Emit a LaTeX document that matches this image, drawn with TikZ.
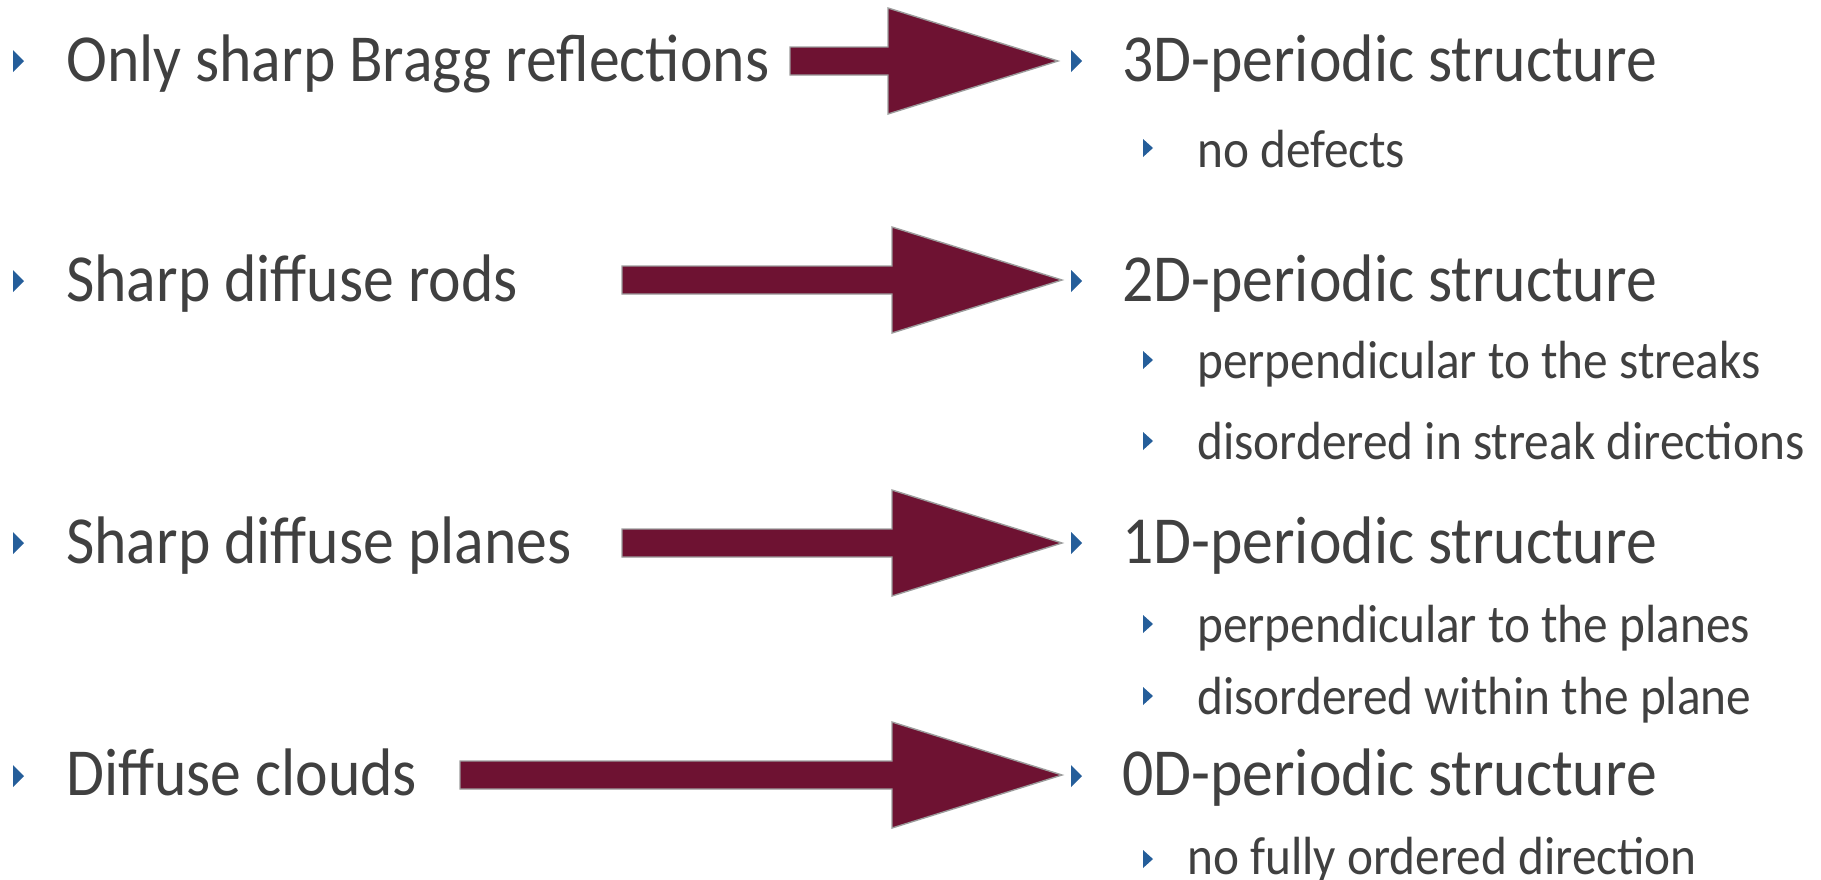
\documentclass[tikz,border=0pt]{standalone}
\usepackage{fontspec}
\setmainfont{Carlito}
\usetikzlibrary{calc}

\definecolor{txtgray}{HTML}{404040}
\definecolor{bulblue}{HTML}{255E9A}
\definecolor{wine}{HTML}{6E1232}
\definecolor{rimgray}{HTML}{9C9C9C}

\tikzset{
  maintext/.style={anchor=base west, inner sep=0pt, text=txtgray,
    font=\fontsize{61.7}{61.7}\selectfont},
  subtext/.style={anchor=base west, inner sep=0pt, text=txtgray,
    font=\fontsize{49.3}{49.3}\selectfont},
  bulletfill/.style={fill=bulblue},
  blockarrow/.style={fill=wine, draw=rimgray, line width=1.4pt, line join=miter},
}

% small triangular bullet: x, y (centre), half height, width
\newcommand\tribullet[4]{%
  \fill[bulletfill] (#1,#2-#3) -- (#1+#4,#2) -- (#1,#2+#3) -- cycle;}

% thick block arrow from a start coordinate to a tip coordinate
\newcommand\fatarrow[2]{%
  \draw[blockarrow] let \p1=(#1), \p2=(#2) in
    (\x1,\y1+14pt) -- (\x2-170pt,\y1+14pt) -- (\x2-170pt,\y1+53pt) --
    (\x2,\y2) -- (\x2-170pt,\y1-53pt) -- (\x2-170pt,\y1-14pt) --
    (\x1,\y1-14pt) -- cycle;}

\newcommand\tall[1]{\scalebox{1}[1.09]{#1}}

\begin{document}
\begin{tikzpicture}[x=1pt,y=-1pt]
\useasboundingbox (0,0) rectangle (1821,879);

% ---- left column: observations ----
\tribullet{13}{61}{11}{11}
\tribullet{13}{281}{11}{11}
\tribullet{13}{543}{11}{11}
\tribullet{13}{776}{11}{11}
\node[maintext] (obs1) at (66,81) {\tall{Only sharp Bragg reflections}};
\node[maintext] (obs2) at (66,301) {\tall{Sharp diffuse rods}};
\node[maintext] (obs3) at (66,563) {\tall{Sharp diffuse planes}};
\node[maintext] (obs4) at (66,795) {\tall{Diffuse clouds}};

% ---- arrows ----
\coordinate (a1s) at (790,61);  \coordinate (a1t) at (1058,61);
\coordinate (a2s) at (622,280); \coordinate (a2t) at (1062,280);
\coordinate (a3s) at (622,543); \coordinate (a3t) at (1062,543);
\coordinate (a4s) at (460,775); \coordinate (a4t) at (1062,775);
\fatarrow{a1s}{a1t}
\fatarrow{a2s}{a2t}
\fatarrow{a3s}{a3t}
\fatarrow{a4s}{a4t}

% ---- right column: conclusions ----
\tribullet{1071}{61}{11}{11}
\tribullet{1071}{281}{11}{11}
\tribullet{1071}{543}{11}{11}
\tribullet{1071}{776}{11}{11}
\node[maintext] (res1) at (1122,81) {\tall{3D-periodic structure}};
\node[maintext] (res2) at (1122,301) {\tall{2D-periodic structure}};
\node[maintext] (res3) at (1122,563) {\tall{1D-periodic structure}};
\node[maintext] (res4) at (1122,795) {\tall{0D-periodic structure}};

% ---- sub items ----
\tribullet{1143}{148}{9}{10}
\tribullet{1143}{360}{9}{10}
\tribullet{1143}{441}{9}{10}
\tribullet{1143}{624}{9}{10}
\tribullet{1143}{696}{9}{10}
\tribullet{1143}{859}{9}{10}
\node[subtext] (d1) at (1197,167) {\tall{no defects}};
\node[subtext] (d2a) at (1197,378) {\tall{perpendicular to the streaks}};
\node[subtext] (d2b) at (1197,459) {\tall{disordered in streak directions}};
\node[subtext] (d3a) at (1197,642) {\tall{perpendicular to the planes}};
\node[subtext] (d3b) at (1197,714) {\tall{disordered within the plane}};
\node[subtext] (d4) at (1187,874) {\tall{no fully ordered direction}};
\end{tikzpicture}
\end{document}
